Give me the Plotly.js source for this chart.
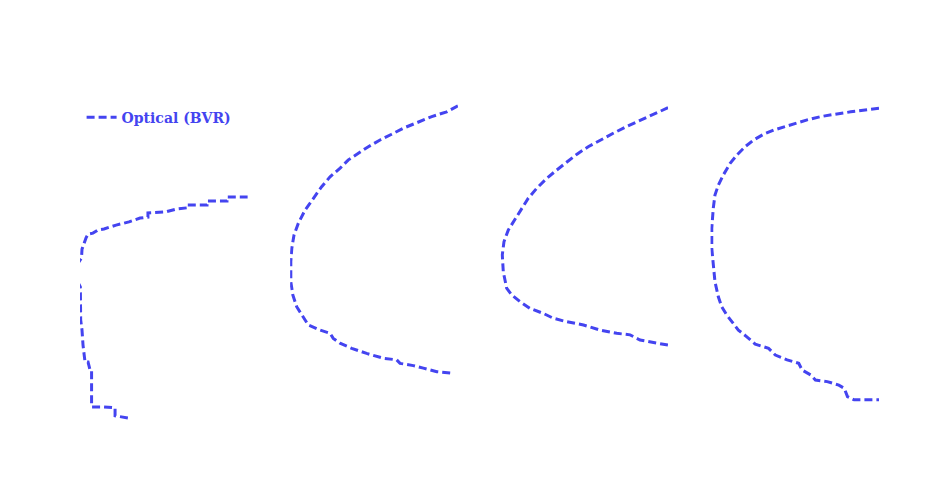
<!DOCTYPE html>
<html>
<head>
<meta charset="utf-8">
<script src="https://cdn.plot.ly/plotly-3.0.1.min.js"></script>
<style>
  body { margin: 0; background: #fff; }
  #chart1 { width: 950px; height: 480px; }
</style>
</head>
<body>
<div id="chart1"></div>
<script>

var seriesName = 'Optical (BVR)';
var lineColor = 'rgb(68, 68, 240)';

var x1 = [1.00, 0.876, 0.876, 0.757, 0.757, 0.638, 0.638, 0.572, 0.507, 0.405, 0.405, 0.358, 0.292, 0.215, 0.143, 0.107, 0.077, 0.048, 0.036, 0.024, 0.012, 0.009, -0.02, -0.02, 0.002, 0.004, 0.012, 0.018, 0.024, 0.030, 0.048, 0.060, 0.069, 0.069, 0.137, 0.191, 0.209, 0.209, 0.268, 0.304];
var y1 = [6.97, 6.97, 6.84, 6.84, 6.72, 6.72, 6.63, 6.59, 6.50, 6.47, 6.34, 6.31, 6.19, 6.09, 5.97, 5.94, 5.84, 5.81, 5.69, 5.53, 5.34, 5.06, 4.84, 4.38, 4.16, 3.13, 2.81, 2.34, 2.03, 1.81, 1.81, 1.56, 1.56, 0.41, 0.41, 0.38, 0.38, 0.13, 0.09, 0.05];

var x2 = [1.00, 0.933, 0.844, 0.754, 0.675, 0.605, 0.536, 0.466, 0.406, 0.347, 0.298, 0.238, 0.188, 0.138, 0.089, 0.049, 0.023, 0.010, 0.004, 0.004, 0.016, 0.039, 0.079, 0.108, 0.178, 0.238, 0.257, 0.297, 0.367, 0.456, 0.555, 0.635, 0.655, 0.734, 0.794, 0.874, 0.973];
var y2 = [9.82, 9.63, 9.48, 9.30, 9.12, 8.93, 8.75, 8.54, 8.33, 8.13, 7.87, 7.60, 7.29, 6.93, 6.56, 6.15, 5.78, 5.37, 4.95, 4.32, 3.91, 3.54, 3.23, 2.97, 2.81, 2.71, 2.55, 2.40, 2.24, 2.08, 1.93, 1.88, 1.77, 1.70, 1.62, 1.51, 1.46];

var x3 = [1.00, 0.912, 0.833, 0.753, 0.673, 0.594, 0.524, 0.455, 0.396, 0.336, 0.277, 0.217, 0.167, 0.128, 0.088, 0.048, 0.022, 0.012, 0.018, 0.038, 0.068, 0.117, 0.177, 0.257, 0.316, 0.396, 0.496, 0.594, 0.694, 0.774, 0.833, 0.913, 1.00];
var y3 = [9.76, 9.55, 9.38, 9.17, 8.96, 8.75, 8.54, 8.30, 8.07, 7.81, 7.55, 7.24, 6.93, 6.61, 6.30, 5.94, 5.57, 5.16, 4.63, 4.12, 3.91, 3.70, 3.49, 3.33, 3.18, 3.07, 2.97, 2.81, 2.71, 2.66, 2.50, 2.43, 2.34];

var x4 = [1.00, 0.911, 0.832, 0.732, 0.653, 0.574, 0.504, 0.434, 0.375, 0.315, 0.256, 0.206, 0.157, 0.117, 0.077, 0.047, 0.027, 0.017, 0.008, 0.008, 0.017, 0.027, 0.047, 0.067, 0.097, 0.136, 0.166, 0.216, 0.266, 0.345, 0.385, 0.455, 0.524, 0.544, 0.594, 0.623, 0.693, 0.762, 0.794, 0.813, 0.852, 1.00];
var y4 = [9.74, 9.69, 9.63, 9.55, 9.48, 9.38, 9.27, 9.17, 9.06, 8.93, 8.75, 8.54, 8.28, 8.02, 7.66, 7.34, 7.03, 6.62, 5.99, 5.37, 4.84, 4.32, 3.85, 3.54, 3.28, 3.02, 2.81, 2.60, 2.37, 2.24, 2.03, 1.88, 1.77, 1.56, 1.41, 1.25, 1.20, 1.09, 0.99, 0.73, 0.63, 0.63];

var panelX = [x1, x2, x3, x4];
var panelY = [y1, y2, y3, y4];

function buildTrace(X, Y, i) {
	var trace = {
		x: X,
		y: Y,
		xaxis: i == 0 ? 'x' : 'x' + (i + 1),
		yaxis: 'y',
		mode: 'lines',
		type: 'scatter',
		name: seriesName,
		legendgroup: 'bvr',
		showlegend: i == 0,
		line: {color: lineColor, width: 3, dash: '8px,4px'},
		hoverinfo: 'skip'
	};
	return trace;
}

function hiddenAxis(dom) {
	return {
		domain: dom,
		range: [0, 1],
		showgrid: false,
		zeroline: false,
		showline: false,
		showticklabels: false,
		ticks: ''
	};
}

var data = [];
for (var i = 0; i < panelX.length; i++) {
	data.push(buildTrace(panelX[i], panelY[i], i));
}

var layout = {
	width: 950,
	height: 480,
	paper_bgcolor: '#fff',
	plot_bgcolor: '#fff',
	margin: {l: 80, r: 71, t: 100, b: 60},
	xaxis: hiddenAxis([0, 0.21]),
	xaxis2: hiddenAxis([0.263, 0.473]),
	xaxis3: hiddenAxis([0.526, 0.736]),
	xaxis4: hiddenAxis([0.789, 1]),
	yaxis: {
		range: [0, 10],
		showgrid: false,
		zeroline: false,
		showline: false,
		showticklabels: false,
		ticks: ''
	},
	showlegend: true,
	legend: {
		x: 0.002,
		y: 0.995,
		xanchor: 'left',
		yanchor: 'top',
		bgcolor: 'rgba(0,0,0,0)',
		font: {family: 'DejaVu Serif', size: 14, color: lineColor, weight: 'bold'}
	}
};

Plotly.newPlot('chart1', data, layout, {staticPlot: true});
</script>
</body>
</html>
